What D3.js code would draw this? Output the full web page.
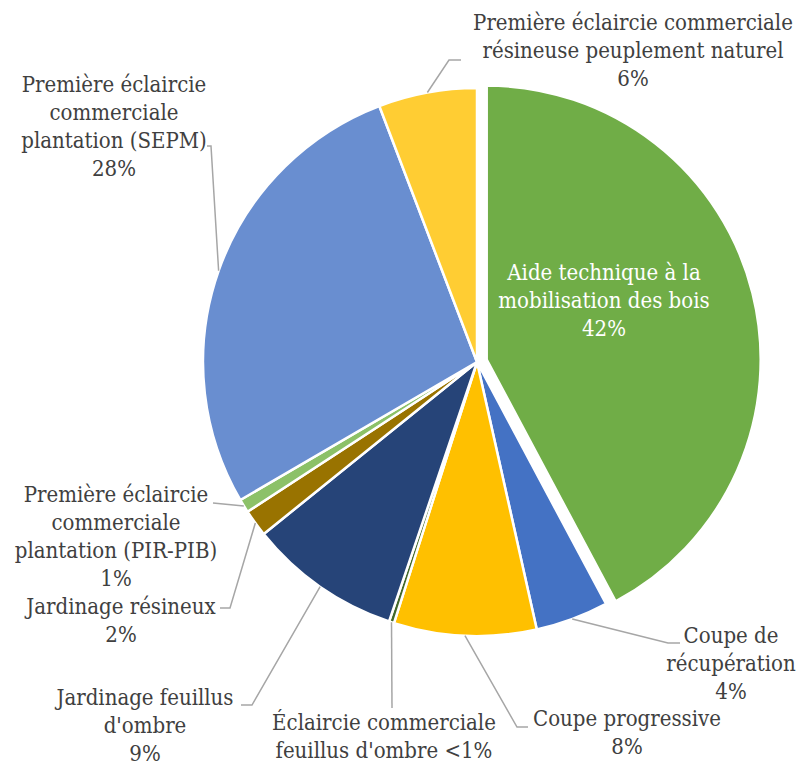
<!doctype html>
<html>
<head>
<meta charset="utf-8">
<script src="https://cdn.jsdelivr.net/npm/d3@7"></script>
<style>
  body { margin: 0; background: #fff; }
  text { font-family: "DejaVu Serif Condensed", "DejaVu Serif", serif; font-stretch: condensed; }
</style>
</head>
<body>
<script>
// slices, clockwise from 12 o'clock
var categories = [
  "Aide technique à la mobilisation des bois",
  "Coupe de récupération",
  "Coupe progressive",
  "Éclaircie commerciale feuillus d'ombre",
  "Jardinage feuillus d'ombre",
  "Jardinage résineux",
  "Première éclaircie commerciale plantation (PIR-PIB)",
  "Première éclaircie commerciale plantation (SEPM)",
  "Première éclaircie commerciale résineuse peuplement naturel"
];
var values = [42.2, 4.3, 8.4, 0.3, 9.0, 1.6, 0.8, 27.6, 5.8];
var pctLabels = ["42%", "4%", "8%", "<1%", "9%", "2%", "1%", "28%", "6%"];
var labelLines = [
  ["Aide technique à la", "mobilisation des bois", "42%"],
  ["Coupe de", "récupération", "4%"],
  ["Coupe progressive", "8%"],
  ["Éclaircie commerciale", "feuillus d'ombre <1%"],
  ["Jardinage feuillus", "d'ombre", "9%"],
  ["Jardinage résineux", "2%"],
  ["Première éclaircie", "commerciale", "plantation (PIR-PIB)", "1%"],
  ["Première éclaircie", "commerciale", "plantation (SEPM)", "28%"],
  ["Première éclaircie commerciale", "résineuse peuplement naturel", "6%"]
];
var colors = ["#70AD47", "#4472C4", "#FFC000", "#43682B", "#264478",
              "#997300", "#8CC168", "#698ED0", "#FFCD33"];

// label layout: text centre x, first baseline y, leader elbow points
var layout = [
  {x: 604, y: 280, inside: true},
  {x: 731, y: 643, pts: [[668, 643], [680, 643]]},
  {x: 627, y: 726, pts: [[517, 727], [528, 727]]},
  {x: 384, y: 730, pts: [[392, 708]]},
  {x: 145, y: 705, pts: [[252, 705], [241, 705]]},
  {x: 121, y: 614, pts: [[230, 608], [220, 608]]},
  {x: 116, y: 502, pts: [[213, 503]]},
  {x: 114, y: 92, pts: [[211, 146], [207, 146]]},
  {x: 633, y: 30, pts: [[449, 60], [461, 60]]}
];

var W = 802, H = 765, cx = 477, cy = 362, R = 274;
var explode = [10, 0, 0, 0, 0, 0, 0, 0, 0];

var svg = d3.select('body').append('svg')
    .attr('width', W)
    .attr('height', H);

var pie = d3.pie().sort(null).value(function(d){ return d; });
var arcs = pie(values);
var arc = d3.arc().innerRadius(0).outerRadius(R);

var g = svg.append('g').attr('transform', 'translate(' + cx + ',' + cy + ')');

g.selectAll('path').data(arcs).enter().append('path')
    .attr('d', arc)
    .attr('fill', function(d, i){ return colors[i]; })
    .attr('stroke', '#fff')
    .attr('stroke-width', 2.5)
    .attr('stroke-linejoin', 'round')
    .attr('transform', function(d, i){
        var a = (d.startAngle + d.endAngle) / 2;
        return 'translate(' + (explode[i] * Math.sin(a)) + ',' + (-explode[i] * Math.cos(a)) + ')';
    });

// leader lines
arcs.forEach(function(d, i){
    var L = layout[i];
    if (L.inside) return;
    var a = (d.startAngle + d.endAngle) / 2;
    var start = [cx + R * Math.sin(a), cy - R * Math.cos(a)];
    var pts = [start].concat(L.pts);
    svg.append('path')
        .attr('d', d3.line()(pts))
        .attr('fill', 'none')
        .attr('stroke', '#A6A6A6')
        .attr('stroke-width', 1.5);
});

// labels
labelLines.forEach(function(lines, i){
    var L = layout[i];
    var t = svg.append('text')
        .attr('text-anchor', 'middle')
        .attr('font-size', 22)
        .attr('fill', L.inside ? '#fff' : '#404040');
    lines.forEach(function(s, k){
        t.append('tspan')
            .attr('x', L.x)
            .attr('y', L.y + k * 28)
            .text(s);
    });
});
</script>
</body>
</html>
